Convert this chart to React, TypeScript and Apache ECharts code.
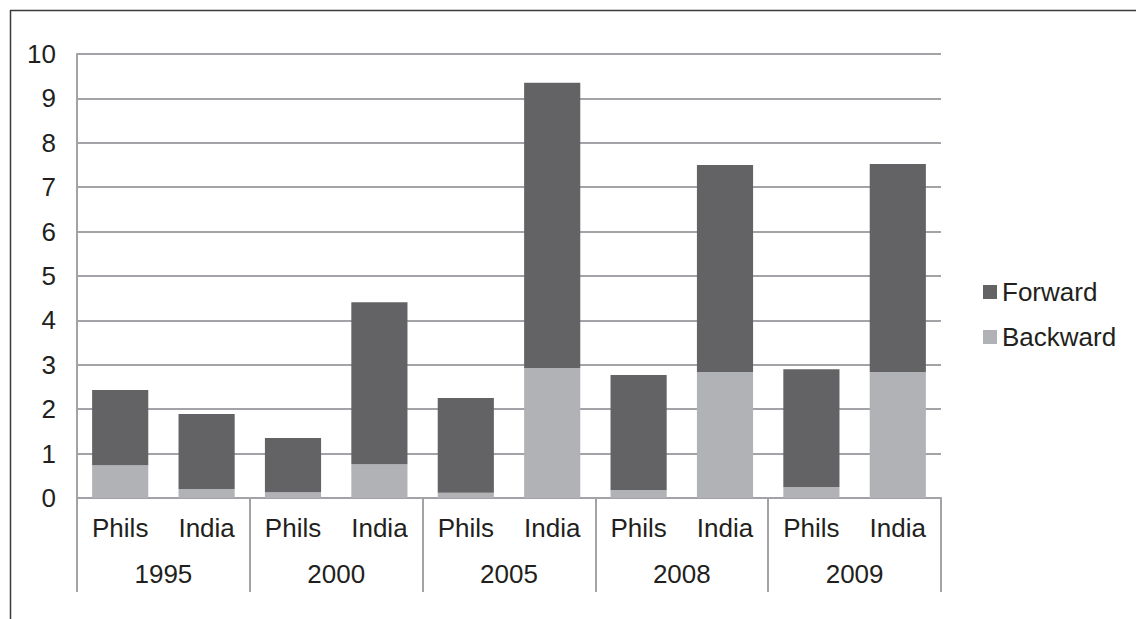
import React, { useEffect, useRef } from "react";
import * as echarts from "echarts";

const countries = ["Phils", "India", "Phils", "India", "Phils", "India", "Phils", "India", "Phils", "India"];
const years = ["1995", "2000", "2005", "2008", "2009"];
const backward = [0.74, 0.2, 0.13, 0.76, 0.12, 2.93, 0.18, 2.84, 0.25, 2.84];
const forward = [1.69, 1.69, 1.22, 3.65, 2.13, 6.42, 2.59, 4.66, 2.65, 4.68];
const yTicks = { min: 0, max: 10, interval: 1 };

const FONT = "'Liberation Sans', Arial, sans-serif";
const TEXT = "#231f20";
const GRID = "#a3a3a7";

export default function App() {
  const ref = useRef<HTMLDivElement>(null);
  useEffect(() => {
    const chart = echarts.init(ref.current!, null, { renderer: "svg" });
    chart.setOption({
      animation: false,
      backgroundColor: "#ffffff",
      textStyle: { fontFamily: FONT },
      grid: { left: 77, right: 195, top: 54, bottom: 121 },
      legend: {
        data: ["Forward", "Backward"],
        orient: "vertical",
        left: 983,
        top: 279,
        padding: 0,
        itemWidth: 14,
        itemHeight: 14,
        itemGap: 19,
        icon: "rect",
        textStyle: { fontSize: 26, color: TEXT, fontFamily: FONT },
      },
      xAxis: [
        {
          type: "category",
          data: countries,
          position: "bottom",
          axisLine: { show: true, lineStyle: { color: GRID, width: 2 } },
          axisTick: { show: false },
          axisLabel: { margin: 17, fontSize: 26, color: TEXT, fontFamily: FONT, interval: 0 },
        },
        {
          type: "category",
          data: years,
          position: "bottom",
          axisLine: { show: false },
          axisTick: { show: true, length: 94, interval: 0, lineStyle: { color: GRID, width: 2 } },
          axisLabel: { margin: 63, fontSize: 26, color: TEXT, fontFamily: FONT, interval: 0 },
        },
      ],
      yAxis: {
        type: "value",
        min: yTicks.min,
        max: yTicks.max,
        interval: yTicks.interval,
        axisLine: { show: true, lineStyle: { color: GRID, width: 2 } },
        axisTick: { show: false },
        axisLabel: { margin: 21, fontSize: 26, color: TEXT, fontFamily: FONT },
        splitLine: { show: true, lineStyle: { color: GRID, width: 2 } },
      },
      series: [
        {
          name: "Backward",
          type: "bar",
          stack: "total",
          xAxisIndex: 0,
          data: backward,
          barWidth: "65%",
          itemStyle: { color: "#b1b2b5" },
        },
        {
          name: "Forward",
          type: "bar",
          stack: "total",
          xAxisIndex: 0,
          data: forward,
          barWidth: "65%",
          itemStyle: { color: "#636365" },
        },
      ],
      graphic: [
        { type: "line", shape: { x1: 10, y1: 10.5, x2: 1136, y2: 10.5 }, style: { stroke: "#3a3a3a", lineWidth: 1.5 } },
        { type: "line", shape: { x1: 10.5, y1: 10, x2: 10.5, y2: 619 }, style: { stroke: "#3a3a3a", lineWidth: 1.5 } },
      ],
    });
    return () => chart.dispose();
  }, []);
  return <div ref={ref} style={{ position: "fixed", left: 0, top: 0, width: 1136, height: 619 }} />;
}
